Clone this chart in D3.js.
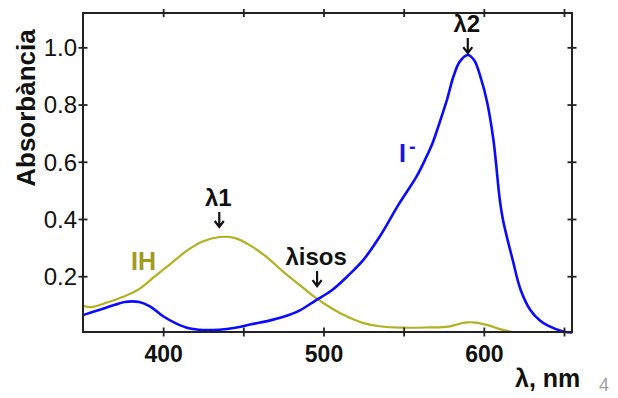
<!DOCTYPE html>
<html>
<head>
<meta charset="utf-8">
<script src="https://cdn.jsdelivr.net/npm/d3@7/dist/d3.min.js"></script>
<style>
  html, body { margin: 0; padding: 0; background: #fff; }
  svg { display: block; font-family: "Liberation Sans", Arial, sans-serif; }
</style>
</head>
<body>
<svg id="chart" width="618" height="398"></svg>
<script>
// Absorption spectra of the acid form (IH) and the base form (I-) of an indicator
const wavelengthIH = [350, 355, 365, 375, 385, 395, 405, 415, 425, 435, 445, 455, 465, 475, 485, 495, 505, 515, 525, 535, 550, 565, 578, 588, 595, 603, 610, 618];
const absorbanceIH = [0.097, 0.092, 0.108, 0.128, 0.155, 0.200, 0.245, 0.290, 0.322, 0.337, 0.333, 0.305, 0.265, 0.215, 0.170, 0.125, 0.088, 0.058, 0.036, 0.025, 0.020, 0.021, 0.024, 0.038, 0.038, 0.028, 0.015, 0.005];

const wavelengthI = [350, 360, 370, 376, 385, 392, 400, 408, 416, 425, 435, 445, 455, 465, 475, 485, 495, 505, 515, 525, 535, 547, 558, 564, 568, 572, 577, 581, 585, 590, 594, 598, 602, 606, 610, 612, 618, 623, 629, 635, 640, 650, 655];
const absorbanceI = [0.064, 0.082, 0.100, 0.110, 0.110, 0.094, 0.060, 0.035, 0.018, 0.012, 0.013, 0.020, 0.032, 0.043, 0.058, 0.080, 0.115, 0.150, 0.200, 0.258, 0.338, 0.452, 0.548, 0.615, 0.665, 0.730, 0.816, 0.897, 0.950, 0.973, 0.955, 0.895, 0.810, 0.676, 0.466, 0.396, 0.257, 0.152, 0.082, 0.045, 0.027, 0.006, 0.003];

const xTicks = [400, 450, 500, 550, 600, 650];
const xTickLabels = [400, 500, 600];
const yTicks = [0.2, 0.4, 0.6, 0.8, 1.0];

// Marked wavelengths: λ1 (IH maximum), λisos (isosbestic point), λ2 (I- maximum)
const markLabels = ["λ1", "λisos", "λ2"];
const markWavelengths = [435, 496, 590];
const markAbsorbances = [0.337, 0.120, 0.973];

const svg = d3.select("#chart");
const plotLeft = 83, plotRight = 572, plotTop = 13, plotBottom = 332;

const x = d3.scaleLinear().domain([350, 655]).range([plotLeft, plotRight]);
const y = d3.scaleLinear().domain([0.005, 1.12]).range([plotBottom, plotTop]);

const axisColor = "#222";

// Spectra
const line = d3.line()
  .x(d => x(d[0]))
  .y(d => y(d[1]))
  .curve(d3.curveCatmullRom.alpha(0.5));

svg.append("path")
  .datum(d3.zip(wavelengthIH, absorbanceIH))
  .attr("d", line)
  .attr("fill", "none")
  .attr("stroke", "#b3b021")
  .attr("stroke-width", 2.2)
  .attr("stroke-linejoin", "round");

svg.append("path")
  .datum(d3.zip(wavelengthI, absorbanceI))
  .attr("d", line)
  .attr("fill", "none")
  .attr("stroke", "#0a0aff")
  .attr("stroke-width", 2.6)
  .attr("stroke-linejoin", "round");

// Frame
svg.append("rect")
  .attr("x", plotLeft).attr("y", plotTop)
  .attr("width", plotRight - plotLeft).attr("height", plotBottom - plotTop)
  .attr("fill", "none")
  .attr("stroke", axisColor)
  .attr("stroke-width", 2);

// Ticks crossing the frame on all four sides
function crossTicks(g) {
  g.select(".domain").remove();
  g.selectAll(".tick line").attr("stroke", axisColor).attr("stroke-width", 1.8);
}

const bottomAxis = svg.append("g")
  .attr("transform", `translate(0,${plotBottom})`)
  .call(d3.axisBottom(x).tickValues(xTicks).tickSize(0)
    .tickFormat(d => xTickLabels.includes(d) ? d3.format("d")(d) : ""))
  .call(crossTicks);
bottomAxis.selectAll(".tick line").attr("y1", -4.5).attr("y2", 4.5);
bottomAxis.selectAll(".tick text")
  .attr("y", 30).attr("dy", 0)
  .attr("fill", "#111")
  .style("font-size", "23px").style("font-weight", "bold")
  .style("font-family", "'Liberation Sans', Arial, sans-serif");

const topAxis = svg.append("g")
  .attr("transform", `translate(0,${plotTop})`)
  .call(d3.axisTop(x).tickValues(xTicks).tickSize(0).tickFormat(""))
  .call(crossTicks);
topAxis.selectAll(".tick line").attr("y1", -4).attr("y2", 4);

const leftAxis = svg.append("g")
  .attr("transform", `translate(${plotLeft},0)`)
  .call(d3.axisLeft(y).tickValues(yTicks).tickSize(0).tickFormat(d3.format(".1f")))
  .call(crossTicks);
leftAxis.selectAll(".tick line").attr("x1", -4.5).attr("x2", 4.5);
leftAxis.selectAll(".tick text")
  .attr("x", -6).attr("dy", "0.35em")
  .attr("fill", "#111")
  .style("font-size", "24px")
  .style("font-family", "'Liberation Sans', Arial, sans-serif");

const rightAxis = svg.append("g")
  .attr("transform", `translate(${plotRight},0)`)
  .call(d3.axisRight(y).tickValues(yTicks).tickSize(0).tickFormat(""))
  .call(crossTicks);
rightAxis.selectAll(".tick line").attr("x1", -4.5).attr("x2", 4.5);

// Axis titles
svg.append("text")
  .attr("transform", "translate(35,108) rotate(-90)")
  .attr("text-anchor", "middle")
  .attr("fill", "#111")
  .style("font-size", "26px").style("font-weight", "bold")
  .text("Absorbància");

svg.append("text")
  .attr("x", 515).attr("y", 387)
  .attr("fill", "#111")
  .style("font-size", "25px").style("font-weight", "bold")
  .text("λ, nm");

// Page number
svg.append("text")
  .attr("x", 599).attr("y", 391)
  .attr("fill", "#a0a0a0")
  .style("font-size", "18px")
  .text("4");

// Series labels
svg.append("text")
  .attr("x", 131).attr("y", 270)
  .attr("fill", "#a39a1e")
  .style("font-size", "25px").style("font-weight", "bold")
  .text("IH");

const iLabel = svg.append("text")
  .attr("x", 399).attr("y", 162)
  .attr("fill", "#1414e6")
  .style("font-size", "25px").style("font-weight", "bold");
iLabel.append("tspan").text("I");
iLabel.append("tspan").attr("dx", 3).attr("dy", -9).style("font-size", "20px").text("-");

// Wavelength markers: label above a short down arrow pointing at the curve
const gaps = [10, 13, 2];      // distance of arrow tip above the curve
svg.selectAll("g.mark")
  .data(d3.range(markLabels.length))
  .join("g")
  .attr("class", "mark")
  .each(function (i) {
    const g = d3.select(this);
    const cx = x(markWavelengths[i]);
    const tip = y(markAbsorbances[i]) - gaps[i];
    g.append("path")
      .attr("d", `M${cx},${tip - 15}L${cx},${tip}M${cx - 4.5},${tip - 6}L${cx},${tip}L${cx + 4.5},${tip - 6}`)
      .attr("fill", "none")
      .attr("stroke", "#111")
      .attr("stroke-width", 2.2);
    g.append("text")
      .attr("x", cx - 1).attr("y", tip - 21)
      .attr("text-anchor", "middle")
      .attr("fill", "#111")
      .style("font-size", "24px").style("font-weight", "bold")
      .text(markLabels[i]);
  });
</script>
</body>
</html>
